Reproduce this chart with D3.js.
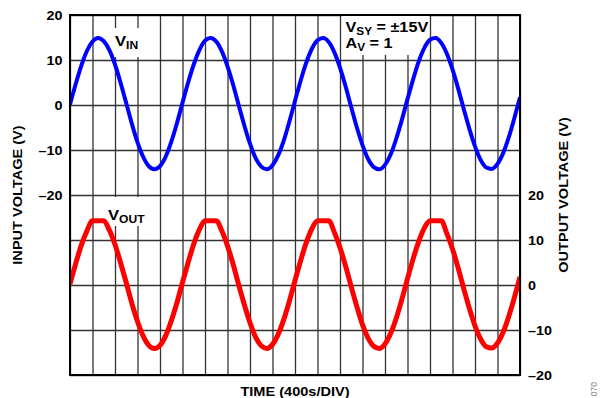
<!DOCTYPE html>
<html><head><meta charset="utf-8">
<script src="https://cdn.jsdelivr.net/npm/d3@7"></script>
<style>body{margin:0;background:#fff}svg{display:block}</style></head>
<body>
<svg id="c" width="600" height="398"></svg>
<script>
// Time grid: samples every quarter division (20 divisions of 400 s)
const divisions = 20;
const sampleStep = 0.25;
// Input voltage (V)
const vin = [0.1,4.6,8.7,12.0,14.1,14.9,14.2,12.2,9.0,4.9,0.4,-4.2,-8.3,-11.5,-13.6,-14.3,-13.6,-11.5,-8.2,-4.1,
  0.5,5.0,9.0,12.2,14.3,14.9,14.1,11.9,8.6,4.5,-0.1,-4.6,-8.6,-11.8,-13.7,-14.3,-13.4,-11.2,-7.9,-3.7,
  0.9,5.4,9.4,12.5,14.4,14.9,14.0,11.7,8.3,4.1,-0.5,-5.0,-8.9,-12.0,-13.8,-14.3,-13.3,-11.0,-7.5,-3.3,
  1.3,5.7,9.7,12.7,14.5,14.9,13.8,11.4,7.9,3.7,-0.9,-5.3,-9.2,-12.2,-13.9,-14.2,-13.1,-10.7,-7.2,-2.9,1.7];
// Output voltage (V), clipped near +14.3 V
const vout = [0.2,4.7,8.8,12.0,14.3,14.3,14.3,12.2,9.0,4.9,0.5,-4.1,-8.1,-11.3,-13.4,-14.1,-13.4,-11.3,-8.0,-4.0,
  0.6,5.0,9.1,12.3,14.3,14.3,14.3,12.0,8.7,4.6,0.0,-4.4,-8.4,-11.6,-13.5,-14.1,-13.2,-11.0,-7.7,-3.6,
  1.0,5.4,9.4,12.5,14.3,14.3,14.3,11.7,8.3,4.2,-0.4,-4.8,-8.8,-11.8,-13.6,-14.1,-13.1,-10.8,-7.4,-3.2,
  1.4,5.8,9.7,12.7,14.3,14.3,14.3,11.4,8.0,3.8,-0.8,-5.2,-9.1,-12.0,-13.7,-14.0,-12.9,-10.5,-7.0,-2.8,1.8];
const leftTicks = [20,10,0,-10,-20];
const rightTicks = [20,10,0,-10,-20];
const fmt = v => v < 0 ? "\u2013" + Math.abs(v) : String(v);

const times = d3.range(0, divisions + 1e-9, sampleStep);
const svg = d3.select("#c");
const L=70, R=520, T=15, B=375;
const x = d3.scaleLinear().domain([0, divisions]).range([L, R]);
const yL = d3.scaleLinear().domain([-60, 20]).range([B, T]);
const yR = d3.scaleLinear().domain([-20, 60]).range([B, T]);
const FONT = "'Liberation Sans', Arial, Helvetica, sans-serif";

// grid
const gx = svg.append("g").attr("transform", `translate(0,${B})`)
  .call(d3.axisBottom(x).ticks(divisions).tickSize(-(B-T)).tickFormat(""));
const gy = svg.append("g").attr("transform", `translate(${L},0)`)
  .call(d3.axisLeft(yL).tickValues(d3.range(-60, 21, 10)).tickSize(-(R-L)).tickFormat(""));
[gx, gy].forEach(g => {
  g.select(".domain").remove();
  g.selectAll("line").attr("stroke", "#333").attr("stroke-width", 1.3);
});

// white boxes behind labels
const boxes = [[112,28,29,29],[104,197,43,29],[342,16,87,39]];
svg.append("g").selectAll("rect").data(boxes).join("rect")
  .attr("x", d=>d[0]).attr("y", d=>d[1]).attr("width", d=>d[2]).attr("height", d=>d[3]).attr("fill", "#fff");

// curves
svg.append("clipPath").attr("id","pc").append("rect").attr("x",L).attr("y",T).attr("width",R-L).attr("height",B-T);
const lineL = d3.line().x((d,i)=>x(times[i])).y(d=>yL(d)).curve(d3.curveMonotoneX);
const lineR = d3.line().x((d,i)=>x(times[i])).y(d=>yR(d)).curve(d3.curveMonotoneX);
svg.append("path").datum(vin).attr("d", lineL).attr("fill","none").attr("stroke","#0000ff")
  .attr("stroke-width",4).attr("clip-path","url(#pc)");
svg.append("path").datum(vout).attr("d", lineR).attr("fill","none").attr("stroke","#ff0000")
  .attr("stroke-width",5).attr("clip-path","url(#pc)");

// frame
svg.append("rect").attr("x",L).attr("y",T).attr("width",R-L).attr("height",B-T)
  .attr("fill","none").attr("stroke","#000").attr("stroke-width",2);

// tick labels
function styleTicks(g, sx) {
  g.select(".domain").remove();
  g.selectAll("line").remove();
  g.selectAll("text").attr("font-family", FONT).attr("font-weight","bold").attr("font-size",12)
    .attr("fill","#000").attr("dy","0.36em").attr("transform", `scale(${sx},1)`);
}
const tl = svg.append("g").attr("transform", `translate(${L},0)`)
  .call(d3.axisLeft(yL).tickValues(leftTicks).tickSize(0).tickPadding(6.3).tickFormat(fmt));
styleTicks(tl, 1.2);
const tr = svg.append("g").attr("transform", `translate(${R},0)`)
  .call(d3.axisRight(yR).tickValues(rightTicks).tickSize(0).tickPadding(6.7).tickFormat(fmt));
styleTicks(tr, 1.2);

// text helper
function txt(xp, yp, parts, o = {}) {
  const t = svg.append("text")
    .attr("transform", `translate(${xp},${yp}) rotate(${o.rot||0}) scale(${o.sx||1.2},1)`)
    .attr("font-family", FONT).attr("font-weight","bold").attr("fill", o.fill || "#000")
    .attr("text-anchor", o.anchor || "start");
  let shift = 0;
  parts.forEach(p => {
    const dy = (p.sub ? 3.4 : 0) - shift;
    shift = p.sub ? 3.4 : 0;
    t.append("tspan").attr("font-size", p.s).attr("dy", dy).text(p.t);
  });
  return t;
}
txt(295, 396, [{t:"TIME (400s/DIV)", s:13}], {anchor:"middle", sx:1.12});
txt(22, 195, [{t:"INPUT VOLTAGE (V)", s:13}], {anchor:"middle", rot:-90, sx:1.12});
txt(568, 195, [{t:"OUTPUT VOLTAGE (V)", s:13}], {anchor:"middle", rot:-90, sx:1.12});
txt(115, 45.5, [{t:"V", s:14.5},{t:"IN", s:10.5, sub:true}], {sx:1.15});
txt(108, 219.5, [{t:"V", s:14.5},{t:"OUT", s:10.5, sub:true}], {sx:1.15});
txt(345.5, 31.5, [{t:"V", s:14.5},{t:"SY", s:10.5, sub:true},{t:" = \u00b115V", s:14.5}], {sx:1.12});
txt(345.5, 48, [{t:"A", s:14.5},{t:"V", s:10.5, sub:true},{t:" = 1", s:14.5}], {sx:1.12});
svg.append("text").attr("transform","translate(597,382) rotate(-90)").attr("text-anchor","end")
  .attr("font-family", FONT).attr("font-size",8.5).attr("fill","#888").text("070");
</script>
</body></html>
